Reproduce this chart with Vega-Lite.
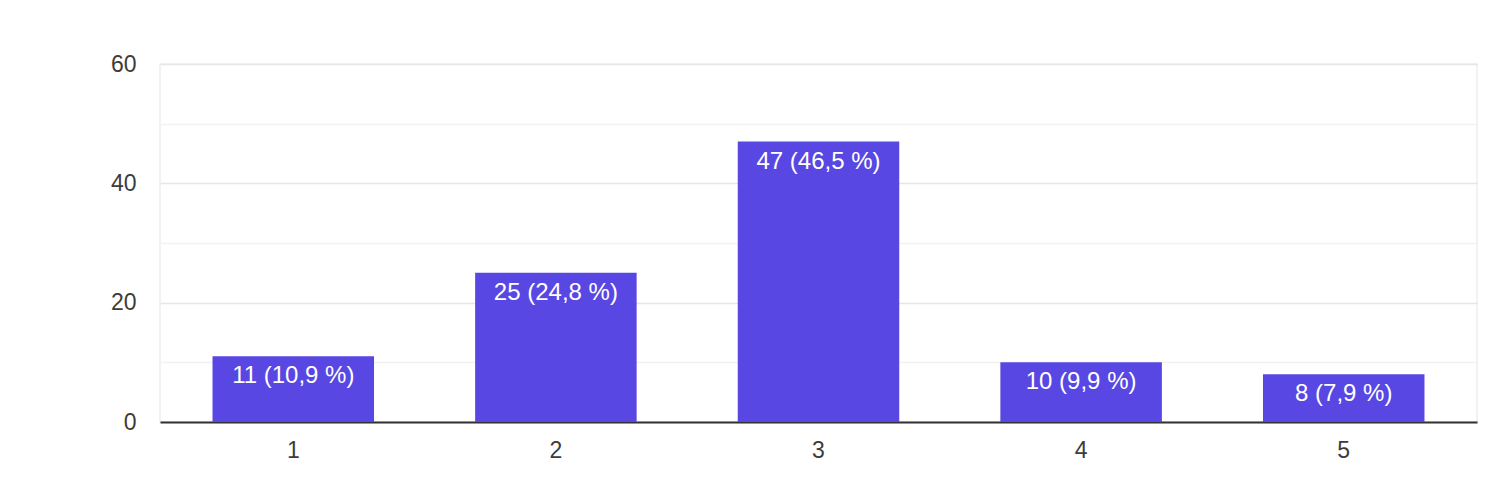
{
  "$schema": "https://vega.github.io/schema/vega-lite/v6.json",
  "width": 1317,
  "height": 358,
  "padding": {"left": 0, "top": 53, "right": 11, "bottom": 0},
  "background": "white",
  "config": {
    "view": {"stroke": "#eeeeee", "strokeWidth": 1.5},
    "font": "Liberation Sans"
  },
  "data": {
    "values": [
      {"option": "1", "count": 11, "label": "11 (10,9 %)"},
      {"option": "2", "count": 25, "label": "25 (24,8 %)"},
      {"option": "3", "count": 47, "label": "47 (46,5 %)"},
      {"option": "4", "count": 10, "label": "10 (9,9 %)"},
      {"option": "5", "count": 8, "label": "8 (7,9 %)"}
    ]
  },
  "encoding": {
    "x": {
      "field": "option",
      "type": "nominal",
      "sort": null,
      "scale": {"paddingInner": 0.385, "paddingOuter": 0.2},
      "axis": {
        "title": null,
        "labelAngle": 0,
        "labelFontSize": 23,
        "labelColor": "#3c3c3c",
        "labelPadding": 17,
        "ticks": false,
        "domainColor": "#333333",
        "domainWidth": 2,
        "grid": false
      }
    },
    "y": {
      "field": "count",
      "type": "quantitative",
      "scale": {"domain": [0, 60], "nice": false},
      "axis": {
        "title": null,
        "values": [0, 10, 20, 30, 40, 50, 60],
        "labelExpr": "datum.value % 20 === 0 ? datum.label : ''",
        "labelFontSize": 23,
        "labelColor": "#3c3c3c",
        "labelPadding": 24,
        "ticks": false,
        "domain": false,
        "grid": true,
        "gridColor": {"condition": {"test": "datum.value % 20 === 0", "value": "#e6e6e6"}, "value": "#f2f2f2"},
        "gridWidth": 1.5,
        "minExtent": 160,
        "maxExtent": 160
      }
    }
  },
  "layer": [
    {"mark": {"type": "bar", "color": "#5847E2"}},
    {
      "mark": {"type": "text", "baseline": "top", "dy": 8, "fontSize": 24, "color": "white"},
      "encoding": {"text": {"field": "label"}}
    }
  ]
}
